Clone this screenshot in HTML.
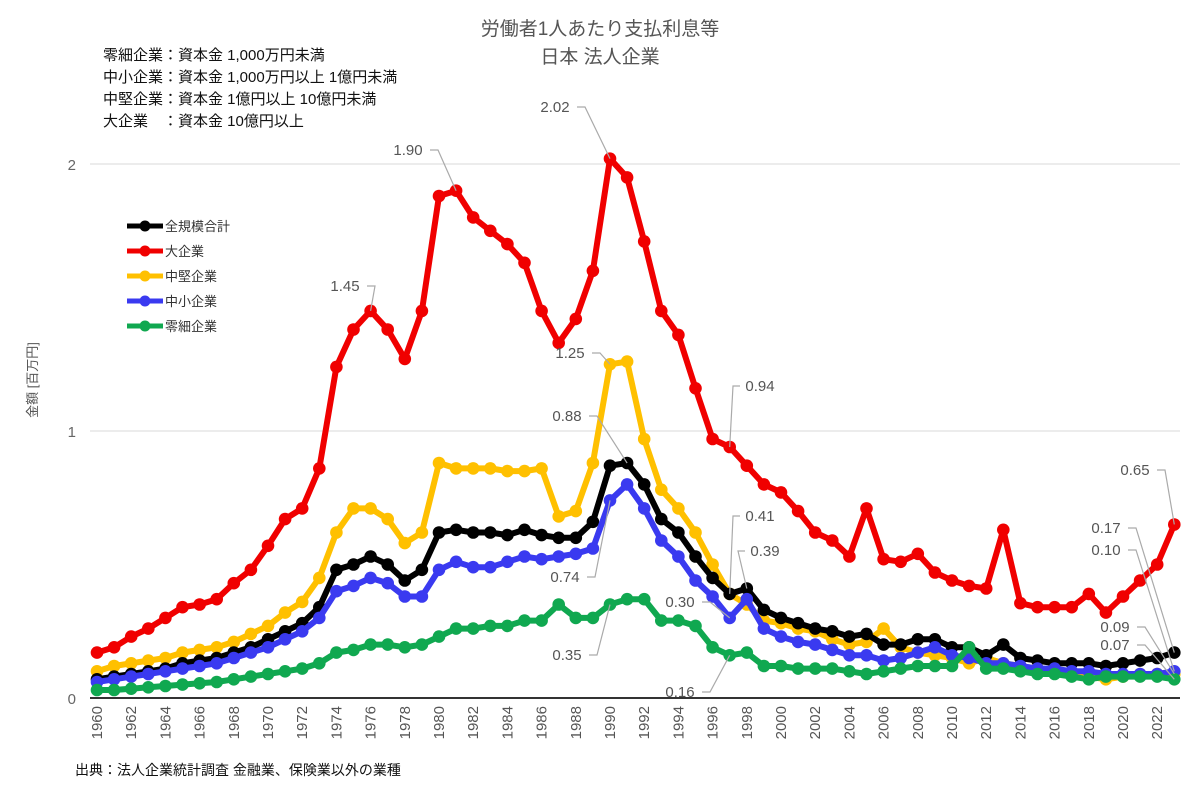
<!DOCTYPE html>
<html><head><meta charset="utf-8"><style>
body{margin:0;background:#fff}
svg{font-family:"Liberation Sans","Noto Sans CJK JP",sans-serif}
</style></head><body>
<svg id="s" width="1200" height="784" xmlns="http://www.w3.org/2000/svg">
<rect width="1200" height="784" fill="#fff"/>
<text x="600" y="35" text-anchor="middle" font-size="19" fill="#555">労働者1人あたり支払利息等</text>
<text x="600" y="63" text-anchor="middle" font-size="19" fill="#555">日本 法人企業</text>
<g font-size="15" fill="#111">
<text x="103" y="60">零細企業：資本金 1,000万円未満</text>
<text x="103" y="82">中小企業：資本金 1,000万円以上 1億円未満</text>
<text x="103" y="104">中堅企業：資本金 1億円以上 10億円未満</text>
<text x="103" y="126">大企業　：資本金 10億円以上</text>
</g>
<line x1="90" x2="1180" y1="431" y2="431" stroke="#d9d9d9"/>
<line x1="90" x2="1180" y1="164" y2="164" stroke="#d9d9d9"/>
<g font-size="15" fill="#666" text-anchor="end">
<text x="76" y="704">0</text><text x="76" y="437">1</text><text x="76" y="170">2</text>
</g>
<text transform="translate(37,380) rotate(-90)" text-anchor="middle" font-size="13" fill="#555">金額 [百万円]</text>
<g id="series"></g>
<line x1="90" x2="1180" y1="698" y2="698" stroke="#333" stroke-width="2"/>
<g id="xl" font-size="15" fill="#555"></g>
<g id="ann" font-size="15" fill="#555"></g>
<g id="leg" font-size="13" fill="#333"></g>
<text x="75" y="775" font-size="14" fill="#111">出典：法人企業統計調査 金融業、保険業以外の業種</text>
</svg>
<script>
const X=y=>97+(y-1960)*17.1, Y=v=>698-v*267;
const D={
red:[0.17,0.19,0.23,0.26,0.30,0.34,0.35,0.37,0.43,0.48,0.57,0.67,0.71,0.86,1.24,1.38,1.45,1.38,1.27,1.45,1.88,1.90,1.80,1.75,1.70,1.63,1.45,1.33,1.42,1.60,2.02,1.95,1.71,1.45,1.36,1.16,0.97,0.94,0.87,0.80,0.77,0.70,0.62,0.59,0.53,0.71,0.52,0.51,0.54,0.47,0.44,0.42,0.41,0.63,0.355,0.34,0.34,0.34,0.39,0.32,0.38,0.44,0.50,0.65],
ylw:[0.10,0.12,0.13,0.14,0.15,0.17,0.18,0.19,0.21,0.24,0.27,0.32,0.36,0.45,0.62,0.71,0.71,0.67,0.58,0.62,0.88,0.86,0.86,0.86,0.85,0.85,0.86,0.68,0.70,0.88,1.25,1.26,0.97,0.78,0.71,0.62,0.50,0.39,0.35,0.29,0.28,0.26,0.25,0.22,0.20,0.21,0.26,0.19,0.17,0.16,0.15,0.13,0.15,0.13,0.12,0.11,0.10,0.09,0.08,0.07,0.08,0.09,0.09,0.09],
blk:[0.07,0.08,0.09,0.10,0.11,0.13,0.14,0.15,0.17,0.19,0.22,0.25,0.28,0.34,0.48,0.50,0.53,0.50,0.44,0.48,0.62,0.63,0.62,0.62,0.61,0.63,0.61,0.60,0.60,0.66,0.87,0.88,0.80,0.67,0.62,0.53,0.45,0.39,0.41,0.33,0.30,0.28,0.26,0.25,0.23,0.24,0.20,0.20,0.22,0.22,0.19,0.19,0.16,0.20,0.15,0.14,0.13,0.13,0.13,0.12,0.13,0.14,0.15,0.17],
blu:[0.06,0.07,0.08,0.09,0.10,0.11,0.12,0.13,0.15,0.17,0.19,0.22,0.25,0.30,0.40,0.42,0.45,0.43,0.38,0.38,0.48,0.51,0.49,0.49,0.51,0.53,0.52,0.53,0.54,0.56,0.74,0.80,0.71,0.59,0.53,0.44,0.38,0.30,0.37,0.26,0.23,0.21,0.20,0.18,0.16,0.16,0.14,0.15,0.17,0.19,0.16,0.15,0.13,0.13,0.12,0.11,0.11,0.10,0.10,0.09,0.09,0.09,0.09,0.10],
grn:[0.03,0.03,0.035,0.04,0.045,0.05,0.055,0.06,0.07,0.08,0.09,0.10,0.11,0.13,0.17,0.18,0.20,0.20,0.19,0.20,0.23,0.26,0.26,0.27,0.27,0.29,0.29,0.35,0.30,0.30,0.35,0.37,0.37,0.29,0.29,0.27,0.19,0.16,0.17,0.12,0.12,0.11,0.11,0.11,0.10,0.09,0.10,0.11,0.12,0.12,0.12,0.19,0.11,0.11,0.10,0.09,0.09,0.08,0.07,0.08,0.08,0.08,0.08,0.07]};
const C={red:"#f00000",ylw:"#ffc000",blk:"#000",blu:"#3a3af0",grn:"#10a850"};
let h="";
for(const k of ["red","ylw","blk","blu","grn"]){
 const p=D[k].map((v,i)=>X(1960+i).toFixed(1)+","+Y(v).toFixed(1));
 h+=`<polyline points="${p.join(" ")}" fill="none" stroke="${C[k]}" stroke-width="6" stroke-linejoin="round"/>`;
 D[k].forEach((v,i)=>h+=`<circle cx="${X(1960+i).toFixed(1)}" cy="${Y(v).toFixed(1)}" r="6.3" fill="${C[k]}"/>`);
}
document.getElementById("series").innerHTML=h;
let xl="";
for(let y=1960;y<=2022;y+=2)xl+=`<text transform="translate(${X(y)+5},706) rotate(-90)" text-anchor="end">${y}</text>`;
document.getElementById("xl").innerHTML=xl;
const A=[["2.02",555,112,"r",1990,"red"],["1.90",408,155,"r",1981,"red"],["1.45",345,291,"r",1976,"red"],["1.25",570,358,"r",1990,"ylw"],["0.88",567,421,"r",1991,"blk"],["0.94",760,391,"l",1997,"red"],["0.41",760,521,"l",1997,"blk"],["0.39",765,556,"l",1998,"blk"],["0.74",565,582,"r",1990,"blu"],["0.30",680,607,"r",1997,"blu"],["0.35",567,660,"r",1990,"grn"],["0.16",680,697,"r",1997,"grn"],["0.65",1135,475,"r",2023,"red"],["0.17",1106,533,"r",2023,"blk"],["0.10",1106,555,"r",2023,"blu"],["0.09",1115,632,"r",2023,"ylw"],["0.07",1115,650,"r",2023,"grn"]];
let a="";
for(const [t,x,y,s,yr,k] of A){
 const px=X(yr),py=Y(D[k][yr-1960]);
 if(s=="r"){a+=`<text x="${x}" y="${y}" text-anchor="middle">${t}</text><polyline points="${x+22},${y-5} ${x+30},${y-5} ${px},${py}" fill="none" stroke="#aaa" stroke-width="1.2"/>`;}
 else{a+=`<text x="${x}" y="${y}" text-anchor="middle">${t}</text><polyline points="${x-20},${y-5} ${x-27},${y-5} ${px},${py}" fill="none" stroke="#aaa" stroke-width="1.2"/>`;}
}
document.getElementById("ann").innerHTML=a;
const L=[["全規模合計","blk"],["大企業","red"],["中堅企業","ylw"],["中小企業","blu"],["零細企業","grn"]];
let lg="";
L.forEach(([t,k],i)=>{const y=226+i*25;lg+=`<line x1="127" x2="163" y1="${y}" y2="${y}" stroke="${C[k]}" stroke-width="5"/><circle cx="145" cy="${y}" r="5.5" fill="${C[k]}"/><text x="165" y="${y+5}">${t}</text>`;});
document.getElementById("leg").innerHTML=lg;
</script>
</body></html>
